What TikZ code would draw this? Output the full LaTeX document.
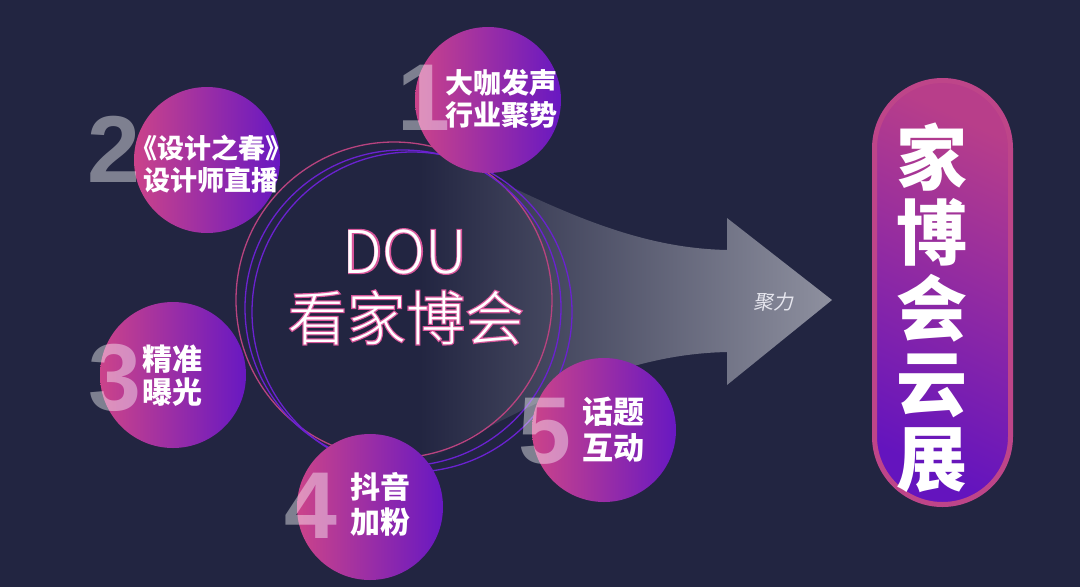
\documentclass[tikz,border=0pt]{standalone}
\usepackage{fontspec}
\newfontfamily\cjk{Noto Sans CJK SC}
\IfFontExistsTF{Noto Sans CJK SC Light}{%
  \newfontfamily\cjklight{Noto Sans CJK SC Light}%
  \newfontfamily\cjkglow{Noto Sans CJK SC Light}[FakeBold=4]%
}{%
  \newfontfamily\cjklight{Noto Sans CJK SC}%
  \newfontfamily\cjkglow{Noto Sans CJK SC}[FakeBold=4]%
}
\newfontfamily\cjkslant{Noto Sans CJK SC}[FakeSlant=0.2]
\newfontfamily\digfont{Liberation Sans}
\definecolor{bg}{HTML}{222541}
\definecolor{arrowR}{HTML}{8E909F}
\definecolor{bpink}{HTML}{CB438A}
\definecolor{bpurple}{HTML}{6818C2}
\definecolor{ringpink}{HTML}{B8437F}
\definecolor{ringpurple}{HTML}{6A22D0}
\definecolor{glowpink}{HTML}{D8559A}
\definecolor{pillborder}{HTML}{BE4589}
\definecolor{pilltop}{HTML}{B83E8A}
\definecolor{pillbottom}{HTML}{6414BE}
\definecolor{slanttext}{HTML}{E6E6EE}
\begin{document}
\begin{tikzpicture}[x=1pt,y=-1pt,
  bubble/.style={circle, inner sep=0, minimum size=146, left color=bpink, right color=bpurple},
  ring/.style={circle, inner sep=0, line width=1.3},
  digit/.style={font=\digfont\bfseries\fontsize{95}{95}\selectfont, text=white, text opacity=0.42, inner sep=0, anchor=base},
  btext/.style n args={2}{font=\cjk\bfseries\fontsize{#1}{#2}\selectfont, text=white, align=center, inner sep=0},
  ctext/.style={font=\cjklight\fontsize{59}{59}\selectfont, text=white, inner sep=0, anchor=base},
  ctglow/.style={font=\cjkglow\fontsize{59}{59}\selectfont, text=glowpink, inner sep=0, anchor=base},
  pilltext/.style={font=\cjk\bfseries\fontsize{71}{71}\selectfont, text=white, inner sep=0, anchor=base},
]
\useasboundingbox (0,0) rectangle (1080,587);
\fill[bg] (0,0) rectangle (1080,587);

% big arrow
\shade[left color=bg, right color=arrowR]
  (420,140) .. controls (560,215) and (640,248) .. (727,250)
  -- (727,218) -- (832,300) -- (727,385) -- (727,352)
  .. controls (640,354) and (560,385) .. (420,465) -- cycle;
\node[font=\cjkslant\fontsize{20}{20}\selectfont, text=slanttext, inner sep=0, anchor=base] (juli) at (773,309) {聚力};

% rings
\node[ring, draw=ringpink, minimum size=316] (ringA) at (394,300) {};
\node[ring, draw=ringpurple, minimum size=316] (ringB) at (403,308) {};
\node[ring, draw=ringpurple, minimum size=320] (ringC) at (412,312) {};

% bubbles
\node[bubble] (b1) at (488,100) {};
\node[bubble] (b2) at (207,160) {};
\node[bubble] (b3) at (173,375) {};
\node[bubble] (b4) at (370,507) {};
\node[bubble, minimum size=144] (b5) at (604,430) {};

% digits
\node[digit] (d1) at (424,130) {1};
\node[digit] (d2) at (114,182) {2};
\node[digit] (d3) at (115,410) {3};
\node[digit] (d4) at (311,538) {4};
\node[digit] (d5) at (545,463) {5};

% bubble texts
\node[btext={28}{32}] (t1) at (501,99) {大咖发声\\行业聚势};
\node[btext={27}{32}] (t2) at (211,164) {《设计之春》\\设计师直播};
\node[btext={30}{33}] (t3) at (172,376) {精准\\曝光};
\node[btext={30}{35}] (t4) at (380,504) {抖音\\加粉};
\node[btext={31}{36}] (t5) at (613,430) {话题\\互动};

% central title
\node[ctglow] (douglow) at (405,273) {DOU};
\node[ctext] (dou) at (405,273) {DOU};
\node[ctglow] (kanglow) at (406,340) {看家博会};
\node[ctext] (kan) at (406,340) {看家博会};

% pill
\node[draw=pillborder, line width=5, minimum width=136, minimum height=424, rounded corners=68,
      top color=pilltop, bottom color=pillbottom, shading angle=-25, inner sep=0] (pill) at (942.5,292.5) {};
\node[pilltext] (p1) at (932,184) {家};
\node[pilltext] (p2) at (932,259) {博};
\node[pilltext] (p3) at (932,335) {会};
\node[pilltext] (p4) at (932,410) {云};
\node[pilltext] (p5) at (932,485) {展};
\end{tikzpicture}
\end{document}
